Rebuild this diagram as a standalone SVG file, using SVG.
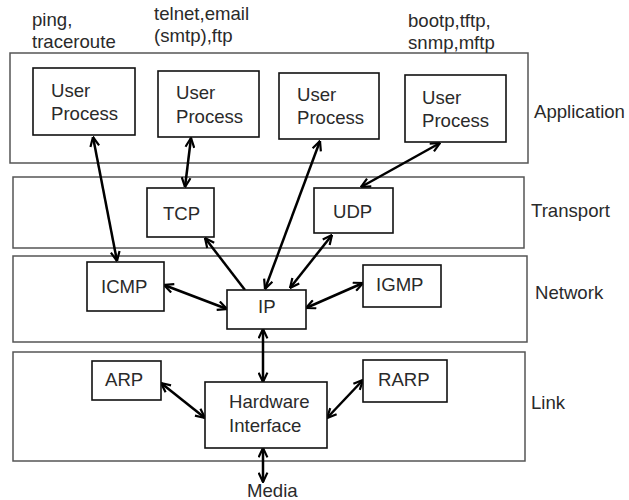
<svg xmlns="http://www.w3.org/2000/svg" width="629" height="500" viewBox="0 0 629 500">
<defs>
<style>
.layer{fill:none;stroke:#555;stroke-width:1.5}
.node{fill:#fff;stroke:#111;stroke-width:1.6}
text{font-family:"Liberation Sans",Arial,sans-serif;font-size:18.6px;fill:#2a2a2a}
.c{stroke:#000;stroke-width:2.5;fill:none;marker-end:url(#ah)}
.d{marker-start:url(#ah)}
</style>
<marker id="ah" viewBox="0 0 10 10" refX="9.5" refY="5" markerWidth="11" markerHeight="11" markerUnits="userSpaceOnUse" orient="auto-start-reverse">
<path d="M1,1 L9.5,5 L1,9" fill="none" stroke="#000" stroke-width="2"/>
</marker>
</defs>
<rect width="629" height="500" fill="#fff"/>

<g id="layers">
<rect class="layer" x="10" y="53" width="518" height="110"/>
<rect class="layer" x="13" y="177" width="511" height="71"/>
<rect class="layer" x="13" y="256" width="514" height="86"/>
<rect class="layer" x="13" y="352" width="512" height="109"/>
<text x="534" y="118">Application</text>
<text x="531" y="217">Transport</text>
<text x="535" y="299">Network</text>
<text x="531" y="409">Link</text>
</g>

<g id="labels">
<text x="32" y="26">ping,</text>
<text x="32" y="48">traceroute</text>
<text x="154" y="20">telnet,email</text>
<text x="154" y="42">(smtp),ftp</text>
<text x="408" y="27">bootp,tftp,</text>
<text x="408" y="49">snmp,mftp</text>
<text x="247" y="497">Media</text>
</g>

<g id="connectors">
<line class="c d" x1="93" y1="137" x2="117" y2="261"/>
<line class="c d" x1="191" y1="138" x2="185" y2="187"/>
<line class="c d" x1="320" y1="141" x2="265" y2="289"/>
<line class="c d" x1="440" y1="143" x2="361" y2="187"/>
<line class="c" x1="245" y1="290" x2="205" y2="238"/>
<line class="c d" x1="332" y1="235" x2="290" y2="288"/>
<line class="c d" x1="164" y1="285" x2="227" y2="309"/>
<line class="c d" x1="306" y1="308" x2="363" y2="283"/>
<line class="c d" x1="263" y1="329" x2="263" y2="382"/>
<line class="c d" x1="161" y1="383" x2="205" y2="418"/>
<line class="c d" x1="327" y1="418" x2="363" y2="380"/>
<line class="c d" x1="263" y1="448" x2="263" y2="482"/>
</g>

<g id="up1"><rect class="node" x="33" y="68" width="102" height="67"/><text x="51" y="97">User</text><text x="51" y="120">Process</text></g>
<g id="up2"><rect class="node" x="158" y="71" width="101" height="66"/><text x="176" y="99">User</text><text x="176" y="123">Process</text></g>
<g id="up3"><rect class="node" x="279" y="73" width="100" height="66"/><text x="297" y="101">User</text><text x="297" y="124">Process</text></g>
<g id="up4"><rect class="node" x="405" y="75" width="101" height="67"/><text x="422" y="104">User</text><text x="422" y="127">Process</text></g>
<g id="tcp"><rect class="node" x="147" y="188" width="67" height="49"/><text x="163" y="220">TCP</text></g>
<g id="udp"><rect class="node" x="314" y="188" width="79" height="45"/><text x="333" y="218">UDP</text></g>
<g id="icmp"><rect class="node" x="87" y="262" width="77" height="49"/><text x="101" y="293">ICMP</text></g>
<g id="ip"><rect class="node" x="227" y="290" width="79" height="39"/><text x="258" y="313">IP</text></g>
<g id="igmp"><rect class="node" x="363" y="265" width="78" height="42"/><text x="376" y="291">IGMP</text></g>
<g id="arp"><rect class="node" x="92" y="361" width="69" height="39"/><text x="105" y="386">ARP</text></g>
<g id="hw"><rect class="node" x="205" y="382" width="122" height="66"/><text x="229" y="408">Hardware</text><text x="229" y="432">Interface</text></g>
<g id="rarp"><rect class="node" x="363" y="360" width="84" height="42"/><text x="378" y="386">RARP</text></g>
</svg>
